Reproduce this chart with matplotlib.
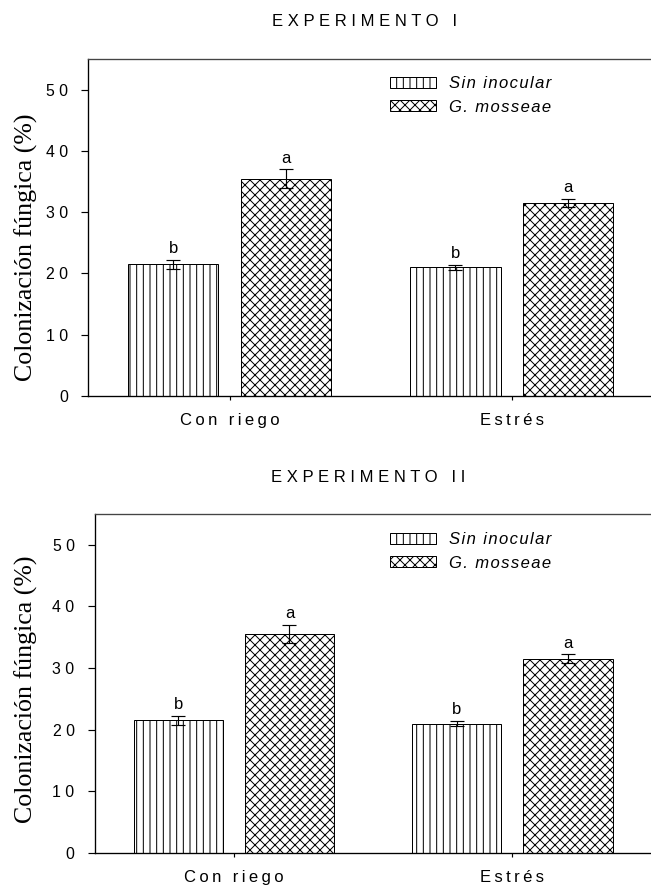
import matplotlib
matplotlib.use('Agg')
import matplotlib.pyplot as plt
import numpy as np

# colonizacion micorrizica, media y error estandar
grupos = ['Con riego', 'Estrés']
tratamientos = ['Sin inocular', 'G. mosseae']
sin_inocular = [21.5, 21.0]
sin_inocular_err = [0.7, 0.4]
g_mosseae = [35.5, 31.5]
g_mosseae_err = [1.5, 0.7]
letras_sin = ['b', 'b']
letras_gm = ['a', 'a']
yticks = [0, 10, 20, 30, 40, 50]
titulos = ['EXPERIMENTO I', 'EXPERIMENTO II']

plt.rcParams['hatch.linewidth'] = 0.6
plt.rcParams['font.family'] = ['Liberation Sans', 'DejaVu Sans']


def espaciado(s, sep=' '):
    return sep.join(s)


fig = plt.figure(figsize=(651 / 120, 885 / 120), dpi=120)

# [left, bottom, width, height] de cada panel
posiciones = [[0.1359, 0.5525, 0.8671, 0.3808],
              [0.1452, 0.0362, 0.8556, 0.3831]]
titulo_x = [0.56, 0.566]
titulo_y = [0.976, 0.461]
ylabel_y = [0.721, 0.221]
leyenda_y = [1 - 68 / 885, 1 - 524 / 885]

x = np.arange(len(grupos))
ancho = 0.32
desp = 0.2

for k in range(2):
    ax = fig.add_axes(posiciones[k])
    ax.bar(x - desp, sin_inocular, ancho, yerr=sin_inocular_err,
           color='white', edgecolor='black', linewidth=0.6, hatch='|||',
           error_kw=dict(ecolor='black', elinewidth=0.7, capsize=4, capthick=0.7),
           label=espaciado(tratamientos[0], '\u200a'))
    ax.bar(x + desp, g_mosseae, ancho, yerr=g_mosseae_err,
           color='white', edgecolor='black', linewidth=0.6, hatch='xxxx',
           error_kw=dict(ecolor='black', elinewidth=0.7, capsize=4, capthick=0.7),
           label=espaciado(tratamientos[1], '\u200a'))

    for i in range(len(grupos)):
        ax.text(x[i] - desp, sin_inocular[i] + sin_inocular_err[i] + 0.6, letras_sin[i],
                ha='center', va='bottom', fontsize=10)
        ax.text(x[i] + desp, g_mosseae[i] + g_mosseae_err[i] + 0.6, letras_gm[i],
                ha='center', va='bottom', fontsize=10)

    ax.set_xlim(-0.5, 1.5)
    ax.set_ylim(0, 55)
    ax.set_yticks(yticks)
    ax.set_yticklabels([espaciado(str(t)) for t in yticks], fontsize=9.5)
    ax.set_xticks(x)
    ax.set_xticklabels([espaciado(g, '\u2009') for g in grupos], fontsize=10)
    ax.tick_params(axis='y', length=4, width=0.7, pad=8)
    ax.tick_params(axis='x', length=2.6, width=0.7, pad=7.5)
    for s in ['left', 'bottom', 'top']:
        ax.spines[s].set_linewidth(0.8)
    ax.spines['top'].set_color('#444444')
    ax.spines['right'].set_visible(False)

    ax.legend(loc='upper left', bbox_to_anchor=(382 / 651, leyenda_y[k]),
              bbox_transform=fig.transFigure, frameon=False,
              borderpad=0, handlelength=2.75, handleheight=0.65,
              handletextpad=0.75, labelspacing=0.5,
              prop=dict(size=10, style='italic'))

    fig.text(titulo_x[k], titulo_y[k], espaciado(titulos[k]), ha='center', va='center',
             fontsize=10)
    fig.text(0.04, ylabel_y[k], 'Colonización fúngica (%)', rotation=90,
             ha='center', va='center', fontsize=15.5, family='Liberation Serif')

fig.savefig('out.png', dpi=120)
